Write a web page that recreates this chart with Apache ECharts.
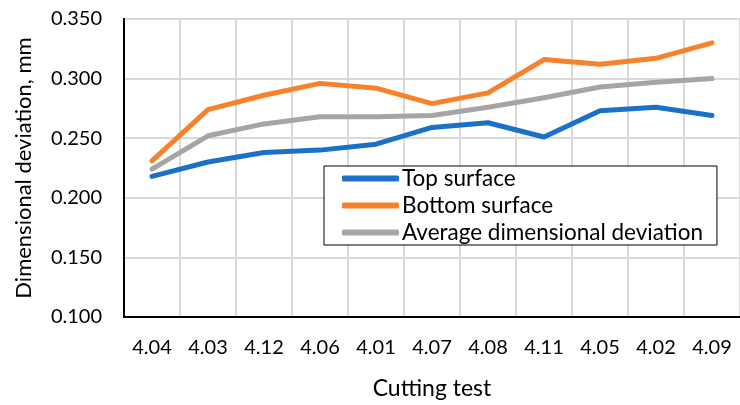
<!DOCTYPE html>
<html>
<head>
<meta charset="utf-8">
<script src="https://cdn.jsdelivr.net/npm/echarts@6/dist/echarts.min.js"></script>
<style>html,body{margin:0;padding:0;background:#fff}#c{width:740px;height:405px}</style>
</head>
<body>
<div id="c"></div>
<script>
var categories = ['4.04','4.03','4.12','4.06','4.01','4.07','4.08','4.11','4.05','4.02','4.09'];
var topSurface = [0.218,0.230,0.238,0.240,0.245,0.259,0.263,0.251,0.273,0.276,0.269];
var bottomSurface = [0.231,0.274,0.286,0.296,0.292,0.279,0.288,0.316,0.312,0.317,0.330];
var averageDeviation = [0.224,0.252,0.262,0.268,0.268,0.269,0.276,0.284,0.293,0.297,0.300];
var seriesNames = ['Top surface','Bottom surface','Average dimensional deviation'];
var yTicks = {min:0.1, max:0.35, interval:0.05};

var font = 'Lato, "Open Sans", sans-serif';
var chart = echarts.init(document.getElementById('c'));
function mk(name, data, color){
  return {name:name, type:'line', data:data, symbol:'none', smooth:false,
    lineStyle:{width:5, color:color, cap:'round', join:'round'}, itemStyle:{color:color}};
}
chart.setOption({
  animation:false,
  textStyle:{fontFamily:font},
  grid:{left:124, top:19, right:0, bottom:84, show:true, borderColor:'#000', borderWidth:2},
  legend:{
    orient:'vertical', left:324, top:166, icon:'roundRect', itemWidth:57, itemHeight:6,
    itemGap:4, padding:[1,14,1,18], borderColor:'#000', borderWidth:1, backgroundColor:'#fff',
    textStyle:{fontSize:22.5, color:'#000', fontFamily:font, padding:[0,0,0,-2]},
    data:seriesNames
  },
  xAxis:{
    type:'category', data:categories, boundaryGap:true,
    axisLine:{lineStyle:{color:'#000', width:2}},
    axisTick:{inside:true, length:8, lineStyle:{color:'#000', width:1.5}},
    splitLine:{show:true, lineStyle:{color:'#d9d9d9', width:2}},
    axisLabel:{fontSize:20, color:'#000', margin:21, fontFamily:font},
    name:'Cutting test', nameLocation:'middle', nameGap:60,
    nameTextStyle:{fontSize:23, color:'#000', fontFamily:font}
  },
  yAxis:{
    type:'value', min:yTicks.min, max:yTicks.max, interval:yTicks.interval,
    axisLine:{show:true, lineStyle:{color:'#000', width:2}},
    axisTick:{show:false},
    splitLine:{show:true, lineStyle:{color:'#d9d9d9', width:2}},
    axisLabel:{fontSize:20, color:'#000', margin:22, fontFamily:font, formatter:function(v){return v.toFixed(3);}},
    name:'Dimensional deviation, mm', nameLocation:'middle', nameGap:89,
    nameTextStyle:{fontSize:22, color:'#000', fontFamily:font}
  },
  series:[
    mk(seriesNames[0], topSurface, '#1b70c8'),
    mk(seriesNames[1], bottomSurface, '#f8822c'),
    mk(seriesNames[2], averageDeviation, '#a5a5a5')
  ]
});
</script>
</body>
</html>
